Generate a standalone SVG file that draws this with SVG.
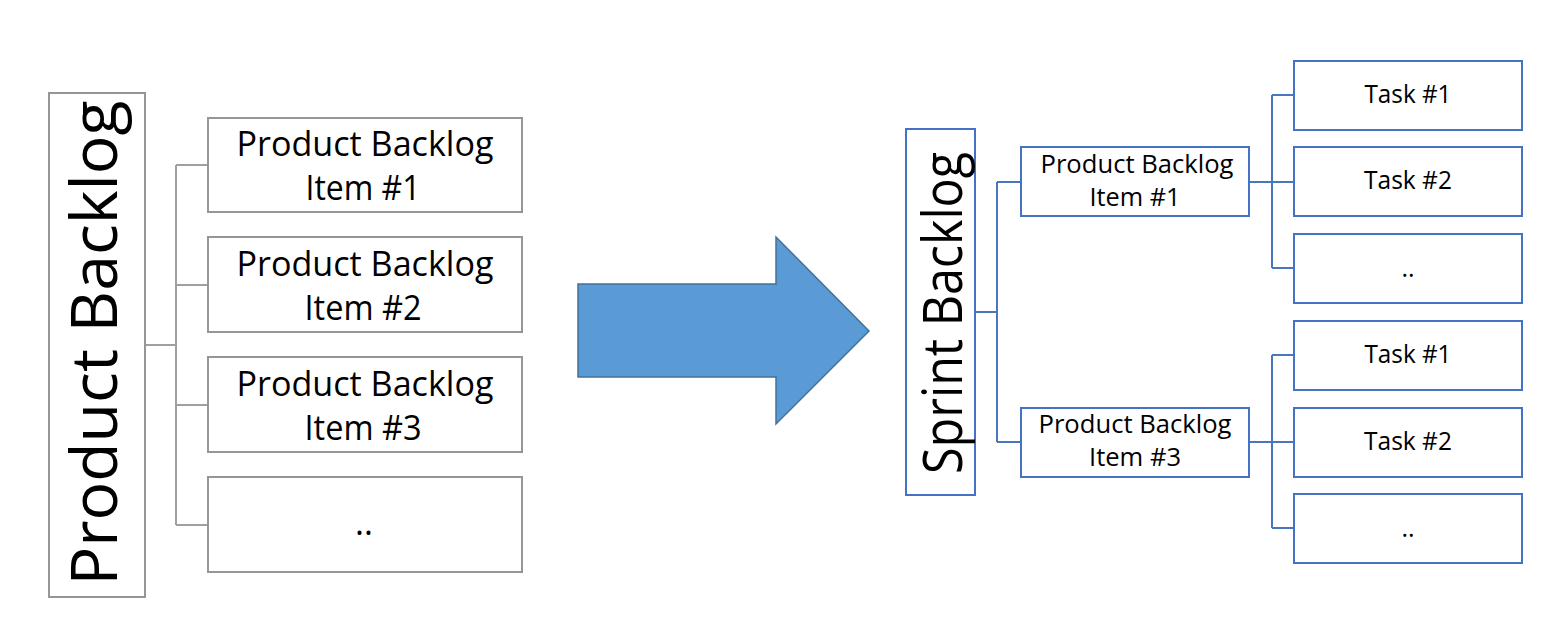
<svg xmlns="http://www.w3.org/2000/svg" width="1549" height="635" viewBox="0 0 1549 635">
<style>
.gbox{fill:#fff;stroke:#969696;stroke-width:2}
.bbox{fill:#fff;stroke:#4472C4;stroke-width:2}
.gline{fill:none;stroke:#A0A0A0;stroke-width:2}
.bline{fill:none;stroke:#4A76C0;stroke-width:2}
text{font-family:"Open Sans","Noto Sans","Liberation Sans",sans-serif;fill:#000;text-anchor:middle}
.lt{font-size:34px}
.rt{font-size:25px}
.tt{font-size:25px}
</style>
<rect width="1549" height="635" fill="#fff"/>
<g id="connectors">
<path class="gline" d="M145 345H176M176 165V525M176 165H208M176 285H208M176 405H208M176 525H208"/>
<path class="bline" d="M975 312H997M997 182V442M997 182H1021M997 442H1021"/>
<path class="bline" d="M1249 182H1272M1272 95V268M1272 95H1294M1272 182H1294M1272 268H1294"/>
<path class="bline" d="M1249 442H1272M1272 355V528M1272 355H1294M1272 442H1294M1272 528H1294"/>
</g>
<g id="product-backlog">
<rect class="gbox" x="49" y="93" width="96" height="504"/>
<text transform="translate(117,343) rotate(-90)" style="font-size:64px" textLength="485" lengthAdjust="spacingAndGlyphs">Product Backlog</text>
</g>
<g id="pbi-1">
<rect class="gbox" x="208" y="118" width="314" height="94"/>
<text class="lt" x="365" y="156" textLength="257" lengthAdjust="spacingAndGlyphs">Product Backlog</text>
<text class="lt" x="363" y="200" textLength="115" lengthAdjust="spacingAndGlyphs">Item #1</text>
</g>
<g id="pbi-2">
<rect class="gbox" x="208" y="237" width="314" height="95"/>
<text class="lt" x="365" y="276" textLength="257" lengthAdjust="spacingAndGlyphs">Product Backlog</text>
<text class="lt" x="363" y="320" textLength="117" lengthAdjust="spacingAndGlyphs">Item #2</text>
</g>
<g id="pbi-3">
<rect class="gbox" x="208" y="357" width="314" height="95"/>
<text class="lt" x="365" y="396" textLength="257" lengthAdjust="spacingAndGlyphs">Product Backlog</text>
<text class="lt" x="363" y="440" textLength="117" lengthAdjust="spacingAndGlyphs">Item #3</text>
</g>
<g id="pbi-more">
<rect class="gbox" x="208" y="477" width="314" height="95"/>
<text class="lt" x="364" y="535">..</text>
</g>
<g id="arrow">
<path d="M578 284H776V237L869 331L776 424V377H578Z" fill="#5B9BD5" stroke="#41719C" stroke-width="1.5"/>
</g>
<g id="sprint-backlog">
<rect class="bbox" x="906" y="129" width="69" height="366"/>
<text transform="translate(962,313) rotate(-90)" style="font-size:54px" textLength="322" lengthAdjust="spacingAndGlyphs">Sprint Backlog</text>
</g>
<g id="sb-item-1">
<rect class="bbox" x="1021" y="147" width="228" height="69"/>
<text class="rt" x="1137" y="173" textLength="193" lengthAdjust="spacingAndGlyphs">Product Backlog</text>
<text class="rt" x="1135" y="206" textLength="91" lengthAdjust="spacingAndGlyphs">Item #1</text>
</g>
<g id="sb-item-3">
<rect class="bbox" x="1021" y="408" width="228" height="69"/>
<text class="rt" x="1135" y="433" textLength="193" lengthAdjust="spacingAndGlyphs">Product Backlog</text>
<text class="rt" x="1135" y="466" textLength="92" lengthAdjust="spacingAndGlyphs">Item #3</text>
</g>
<g id="task-1-1">
<rect class="bbox" x="1294" y="61" width="228" height="69"/>
<text class="tt" x="1408" y="103" textLength="87" lengthAdjust="spacingAndGlyphs">Task #1</text>
</g>
<g id="task-1-2">
<rect class="bbox" x="1294" y="147" width="228" height="69"/>
<text class="tt" x="1408" y="189" textLength="88" lengthAdjust="spacingAndGlyphs">Task #2</text>
</g>
<g id="task-1-more">
<rect class="bbox" x="1294" y="234" width="228" height="69"/>
<text class="tt" x="1408" y="277">..</text>
</g>
<g id="task-3-1">
<rect class="bbox" x="1294" y="321" width="228" height="69"/>
<text class="tt" x="1408" y="363" textLength="87" lengthAdjust="spacingAndGlyphs">Task #1</text>
</g>
<g id="task-3-2">
<rect class="bbox" x="1294" y="408" width="228" height="69"/>
<text class="tt" x="1408" y="450" textLength="88" lengthAdjust="spacingAndGlyphs">Task #2</text>
</g>
<g id="task-3-more">
<rect class="bbox" x="1294" y="494" width="228" height="69"/>
<text class="tt" x="1408" y="537">..</text>
</g>
</svg>
